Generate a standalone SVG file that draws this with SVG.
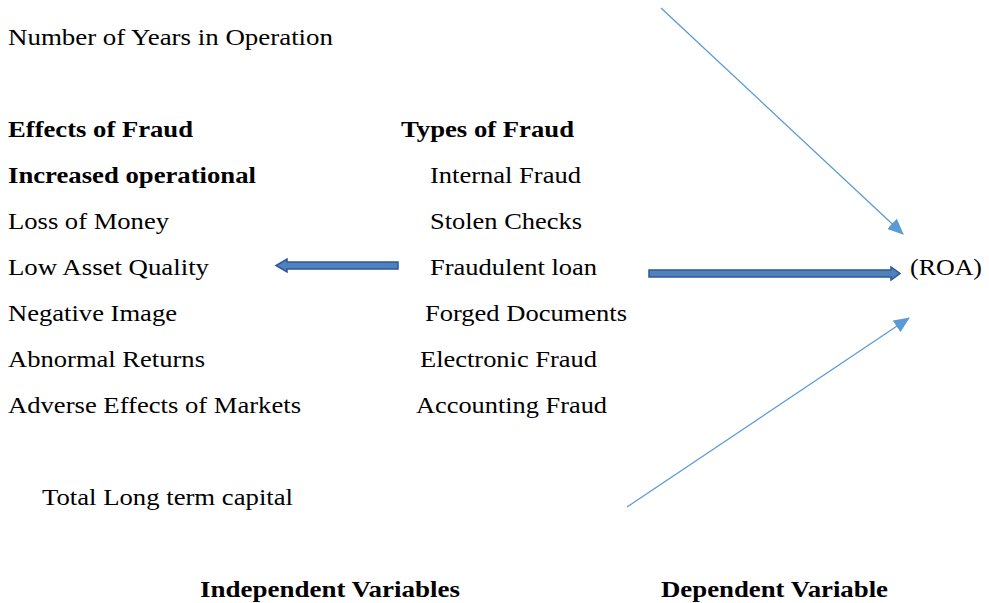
<svg xmlns="http://www.w3.org/2000/svg" width="989" height="603" viewBox="0 0 989 603">
<style>
text{font-family:"Liberation Serif","Times New Roman",serif;font-size:23px;fill:#000}
.b{font-weight:bold}
.thin{stroke:#5B9BD5;stroke-width:1.3;fill:none}
.block{fill:#4F81BD;stroke:#2F5597;stroke-width:1.5}
</style>
<defs>
<marker id="ah" markerWidth="16" markerHeight="14" refX="15" refY="7" orient="auto" markerUnits="userSpaceOnUse">
<path d="M0,0 L16,7 L0,14 z" fill="#5B9BD5"/>
</marker>
</defs>
<rect width="989" height="603" fill="#fff"/>
<g id="years"><text x="8" y="45" textLength="325" lengthAdjust="spacingAndGlyphs">Number of Years in Operation</text></g>
<g id="effects">
<text class="b" x="8" y="137" textLength="185" lengthAdjust="spacingAndGlyphs">Effects of Fraud</text>
<text class="b" x="8" y="183" textLength="248" lengthAdjust="spacingAndGlyphs">Increased operational</text>
<text x="8" y="229" textLength="161" lengthAdjust="spacingAndGlyphs">Loss of Money</text>
<text x="8" y="275" textLength="201" lengthAdjust="spacingAndGlyphs">Low Asset Quality</text>
<text x="8" y="321" textLength="169" lengthAdjust="spacingAndGlyphs">Negative Image</text>
<text x="8" y="367" textLength="197" lengthAdjust="spacingAndGlyphs">Abnormal Returns</text>
<text x="8" y="413" textLength="293" lengthAdjust="spacingAndGlyphs">Adverse Effects of Markets</text>
</g>
<g id="types">
<text class="b" x="401" y="137" textLength="173" lengthAdjust="spacingAndGlyphs">Types of Fraud</text>
<text x="430" y="183" textLength="151" lengthAdjust="spacingAndGlyphs">Internal Fraud</text>
<text x="430" y="229" textLength="152" lengthAdjust="spacingAndGlyphs">Stolen Checks</text>
<text x="430" y="275" textLength="167" lengthAdjust="spacingAndGlyphs">Fraudulent loan</text>
<text x="425" y="321" textLength="202" lengthAdjust="spacingAndGlyphs">Forged Documents</text>
<text x="420" y="367" textLength="177" lengthAdjust="spacingAndGlyphs">Electronic Fraud</text>
<text x="416" y="413" textLength="191" lengthAdjust="spacingAndGlyphs">Accounting Fraud</text>
</g>
<g id="capital"><text x="42" y="505" textLength="251" lengthAdjust="spacingAndGlyphs">Total Long term capital</text></g>
<g id="roa"><text x="910" y="275" textLength="72" lengthAdjust="spacingAndGlyphs">(ROA)</text></g>
<g id="labels">
<text class="b" x="200" y="597" textLength="260" lengthAdjust="spacingAndGlyphs">Independent Variables</text>
<text class="b" x="661" y="597" textLength="227" lengthAdjust="spacingAndGlyphs">Dependent Variable</text>
</g>
<g id="connectors">
<path class="block" d="M398,262 L287,262 L287,259 L276,265.5 L287,272 L287,269 L398,269 z"/>
<path class="block" d="M649,270 L891,270 L891,267 L900,273.5 L891,280 L891,277 L649,277 z"/>
<line class="thin" x1="661" y1="8" x2="903" y2="234" marker-end="url(#ah)"/>
<line class="thin" x1="627" y1="507" x2="909" y2="318" marker-end="url(#ah)"/>
</g>
</svg>
